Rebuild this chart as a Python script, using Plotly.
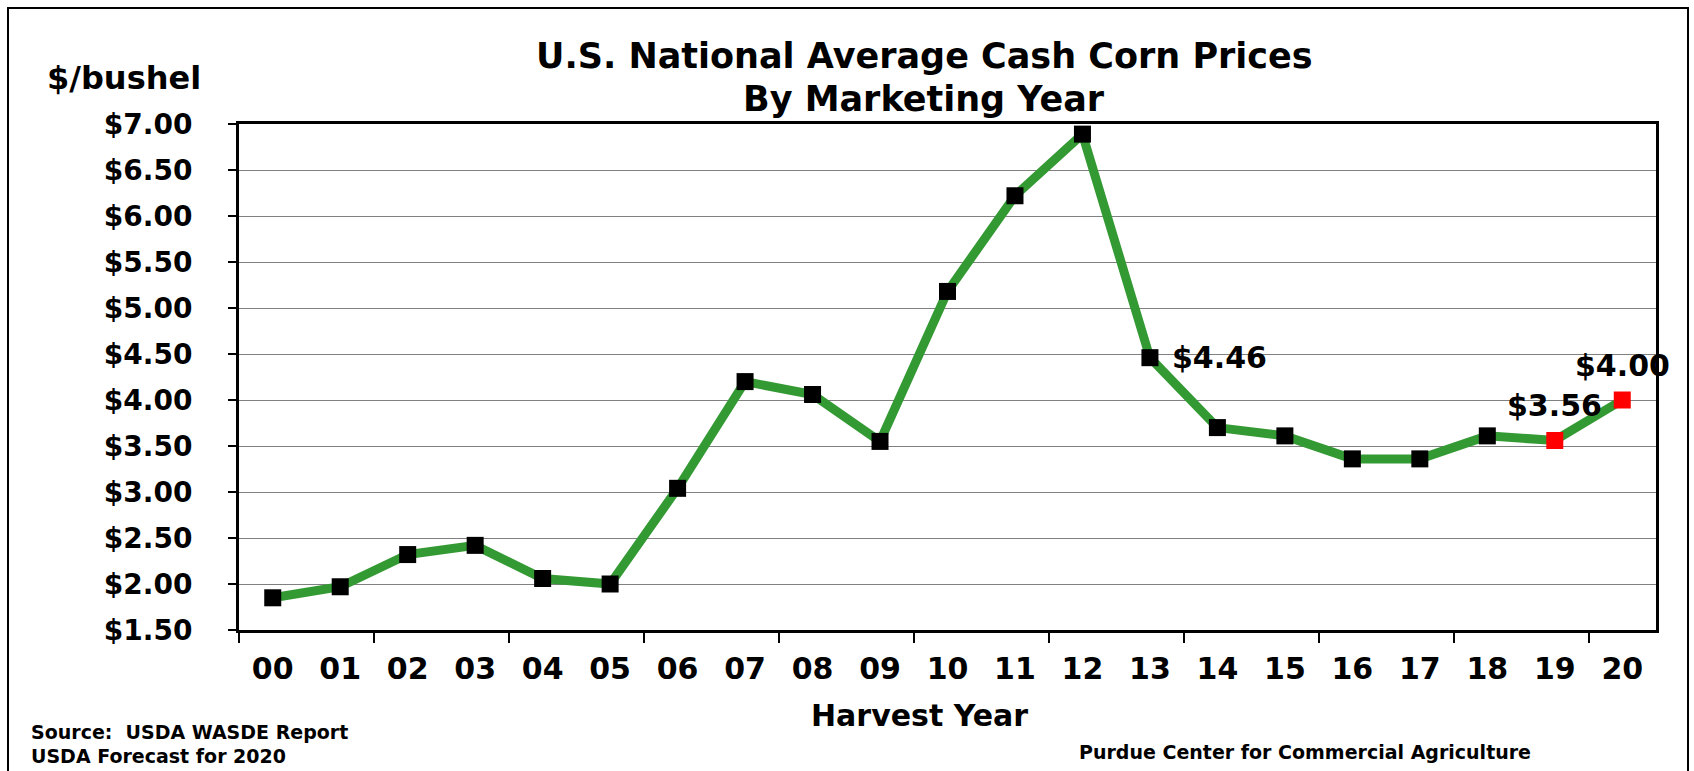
import plotly.graph_objects as go

# Harvest-year marketing-year average cash corn prices ($/bushel)
years = ["00", "01", "02", "03", "04", "05", "06", "07", "08", "09", "10",
         "11", "12", "13", "14", "15", "16", "17", "18", "19", "20"]
prices = [1.85, 1.97, 2.32, 2.42, 2.06, 2.00, 3.04, 4.20, 4.06, 3.55, 5.18,
          6.22, 6.89, 4.46, 3.70, 3.61, 3.36, 3.36, 3.61, 3.56, 4.00]
# years whose marker is highlighted in red (estimate / forecast)
highlight_years = ["19", "20"]
# years whose value is written beside the marker
labelled_years = ["13", "19", "20"]

y_ticks = [1.5, 2.0, 2.5, 3.0, 3.5, 4.0, 4.5, 5.0, 5.5, 6.0, 6.5, 7.0]

W, H = 1694, 771
L, R, T, B = 239, 1656, 124, 630  # plot area in pixels
PW, PH = R - L, B - T


def px_x(x):
    return (x - L) / PW


def px_y(y):
    return (B - y) / PH


FONT = "DejaVu Sans"
xs = list(range(len(years)))
marker_colors = ["#ff0000" if y in highlight_years else "#000000" for y in years]

fig = go.Figure()
fig.add_trace(go.Scatter(
    x=xs, y=prices, mode="lines+markers",
    line=dict(color="#339933", width=9),
    marker=dict(symbol="square", size=17, color=marker_colors,
                line=dict(width=0)),
    hoverinfo="skip", showlegend=False,
))

annotations = []
for yr in labelled_years:
    i = years.index(yr)
    v = prices[i]
    if yr == "13":
        annotations.append(dict(x=i, y=v, xref="x", yref="y", text=f"<b>${v:.2f}</b>",
                                showarrow=False, xanchor="left", yanchor="middle",
                                xshift=20, yshift=0,
                                font=dict(family=FONT, size=30, color="black")))
    else:
        annotations.append(dict(x=i, y=v, xref="x", yref="y", text=f"<b>${v:.2f}</b>",
                                showarrow=False, xanchor="center", yanchor="middle",
                                xshift=0, yshift=35,
                                font=dict(family=FONT, size=30, color="black")))

# titles and notes
annotations += [
    dict(x=px_x(924), y=px_y(56), xref="paper", yref="paper",
         text="<b>U.S. National Average Cash Corn Prices</b>", showarrow=False,
         xanchor="center", yanchor="middle", font=dict(family=FONT, size=35, color="black")),
    dict(x=px_x(924), y=px_y(99), xref="paper", yref="paper",
         text="<b>By Marketing Year</b>", showarrow=False,
         xanchor="center", yanchor="middle", font=dict(family=FONT, size=35, color="black")),
    dict(x=px_x(45), y=px_y(78), xref="paper", yref="paper",
         text="<b>$/bushel</b>", showarrow=False,
         xanchor="left", yanchor="middle", font=dict(family=FONT, size=32, color="black")),
    dict(x=px_x(919), y=px_y(715), xref="paper", yref="paper",
         text="<b>Harvest Year</b>", showarrow=False,
         xanchor="center", yanchor="middle", font=dict(family=FONT, size=30, color="black")),
    dict(x=px_x(29), y=px_y(732), xref="paper", yref="paper",
         text="<b>Source:  USDA WASDE Report</b>", showarrow=False,
         xanchor="left", yanchor="middle", font=dict(family=FONT, size=19, color="black")),
    dict(x=px_x(29), y=px_y(756), xref="paper", yref="paper",
         text="<b>USDA Forecast for 2020</b>", showarrow=False,
         xanchor="left", yanchor="middle", font=dict(family=FONT, size=19, color="black")),
    dict(x=px_x(1305), y=px_y(752), xref="paper", yref="paper",
         text="<b>Purdue Center for Commercial Agriculture</b>", showarrow=False,
         xanchor="center", yanchor="middle", font=dict(family=FONT, size=19, color="black")),
]

# outer frame around the whole graphic
shapes = [dict(type="rect", xref="paper", yref="paper",
               x0=px_x(8), x1=px_x(1688), y0=px_y(780), y1=px_y(8),
               line=dict(color="black", width=2), fillcolor="rgba(0,0,0,0)", layer="below")]

fig.update_layout(
    width=W, height=H,
    margin=dict(l=L, r=W - R, t=T, b=H - B, pad=0),
    paper_bgcolor="white", plot_bgcolor="white",
    font=dict(family=FONT, color="black"),
    annotations=annotations, shapes=shapes,
    xaxis=dict(
        range=[-0.5, len(years) - 0.5],
        tickmode="array", tickvals=xs, ticktext=[f"<b>{y}</b>" for y in years],
        ticks="", tickfont=dict(family=FONT, size=30, color="black"),
        ticklabelstandoff=10,
        showgrid=False, zeroline=False,
        showline=True, linecolor="black", linewidth=3, mirror=True,
        minor=dict(tickmode="linear", tick0=-0.5, dtick=2, ticks="outside",
                   ticklen=10, tickwidth=2, tickcolor="black", showgrid=False),
    ),
    yaxis=dict(
        range=[1.5, 7.0],
        tickmode="array", tickvals=y_ticks,
        ticktext=[f"<b>${v:.2f}</b>" for v in y_ticks],
        ticks="outside", ticklen=8, tickwidth=2, tickcolor="black",
        tickfont=dict(family=FONT, size=28, color="black"),
        ticklabelstandoff=30,
        showgrid=True, gridcolor="#808080", gridwidth=1,
        zeroline=False,
        showline=True, linecolor="black", linewidth=3, mirror=True,
    ),
)

fig.write_html("out.html")
